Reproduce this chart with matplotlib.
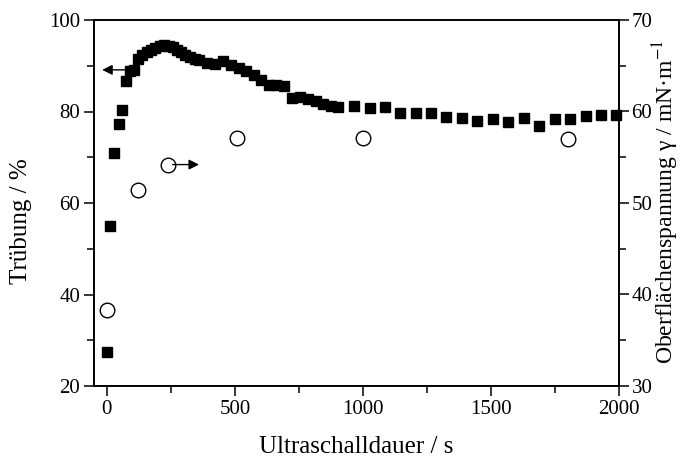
import numpy as np
import matplotlib
matplotlib.use("Agg")
import matplotlib.pyplot as plt
from matplotlib.ticker import MultipleLocator

# turbidity (left axis), squares
t_turb = [0, 14, 29, 46, 60, 76, 91, 107, 123, 138, 156, 172, 189, 206, 223, 242,
          258, 273, 290, 307, 325, 343, 360, 391, 423, 453, 485, 515, 544, 573,
          604, 635, 662, 693, 725, 756, 785, 815, 845, 874, 904, 964, 1026,
          1086, 1146, 1206, 1266, 1326, 1387, 1446, 1508, 1568, 1628, 1688,
          1750, 1808, 1870, 1930, 1990]
turbidity = [27.4, 55.0, 71.0, 77.2, 80.4, 86.7, 88.9, 89.1, 91.5, 92.4, 93.1, 93.5,
             93.8, 94.3, 94.6, 94.3, 94.0, 93.5, 93.0, 92.4, 91.9, 91.5, 91.3,
             90.6, 90.4, 91.1, 90.2, 89.5, 88.9, 88.0, 86.9, 85.8, 85.8, 85.6,
             82.9, 83.1, 82.7, 82.2, 81.7, 81.3, 81.0, 81.2, 80.8, 81.0, 79.7,
             79.7, 79.6, 78.9, 78.6, 77.9, 78.4, 77.7, 78.6, 76.9, 78.4, 78.4,
             79.0, 79.2, 79.3]

# surface tension (right axis), open circles
t_sigma = [0, 120, 240, 510, 1000, 1800]
sigma = [38.3, 51.4, 54.2, 57.1, 57.1, 57.0]

plt.rcParams['font.family'] = ['Liberation Serif', 'DejaVu Serif']
plt.rcParams['mathtext.fontset'] = 'stix'

fig = plt.figure(figsize=(6.8, 4.63), dpi=100)
ax = fig.add_axes([94/680, 1-386/463, (619-94)/680, (386-20)/463])
ax2 = ax.twinx()

ax.plot(t_turb, turbidity, 's', color='black', markersize=7, clip_on=False, zorder=3)
ax2.plot(t_sigma, sigma, 'o', mfc='white', mec='black', mew=1.0, markersize=10.5)

ax.set_xlim(-50, 2000)
ax.set_ylim(20, 100)
ax2.set_ylim(30, 70)

ax.xaxis.set_major_locator(MultipleLocator(500))
ax.xaxis.set_minor_locator(MultipleLocator(250))
ax.yaxis.set_major_locator(MultipleLocator(20))
ax.yaxis.set_minor_locator(MultipleLocator(10))
ax2.yaxis.set_major_locator(MultipleLocator(10))
ax2.yaxis.set_minor_locator(MultipleLocator(5))

ax.tick_params(axis='both', which='major', direction='out', length=7, width=1.1,
               labelsize=15, pad=3)
ax.tick_params(axis='both', which='minor', direction='out', length=5, width=1.1)
ax2.tick_params(axis='y', which='major', direction='out', length=7, width=1.1,
                labelsize=15, pad=2)
ax2.tick_params(axis='y', which='minor', direction='out', length=5, width=1.1)

for a in (ax, ax2):
    for s in a.spines.values():
        s.set_linewidth(1.2)

# arrows pointing to the axes
ax.annotate('', xy=(-18, 89.1), xytext=(76, 89.1),
            arrowprops=dict(arrowstyle='-|>', color='black', lw=1.0,
                            mutation_scale=15, shrinkA=0, shrinkB=0))
ax2.annotate('', xy=(360, 54.2), xytext=(257, 54.2),
             arrowprops=dict(arrowstyle='-|>', color='black', lw=1.0,
                             mutation_scale=15, shrinkA=0, shrinkB=0))

ax.set_xlabel('Ultraschalldauer / s', fontsize=18, labelpad=12)
ax.set_ylabel('Trübung / %', fontsize=18)
ax.yaxis.set_label_coords(-0.118, 0.45)
fig.text(666/680, 1-364/463, r'Oberflächenspannung γ / mN·m$^{-1}$',
         rotation=90, ha='center', va='bottom', fontsize=17)

fig.savefig('out.png', dpi=100)
